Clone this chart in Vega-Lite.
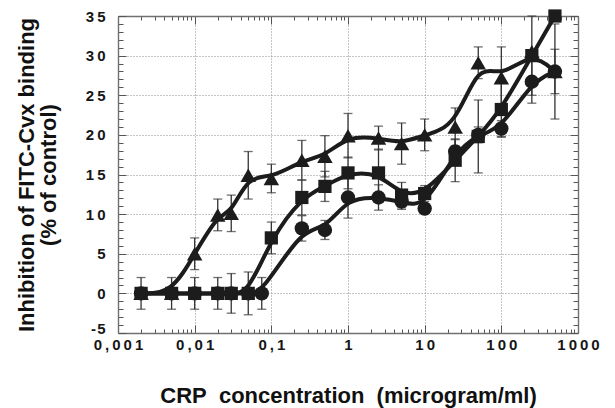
{
  "$schema": "https://vega.github.io/schema/vega-lite/v6.json",
  "width": 460,
  "height": 317,
  "autosize": {"type": "none"},
  "padding": {"left": 118, "top": 16, "right": 37, "bottom": 75},
  "background": "white",
  "config": {
    "view": {"stroke": null},
    "axis": {
      "labelFont": "Liberation Sans",
      "titleFont": "Liberation Sans",
      "labelFontWeight": "bold",
      "titleFontWeight": "bold",
      "labelColor": "#161616",
      "titleColor": "#111111",
      "domainColor": "#707070",
      "domainWidth": 1.4,
      "tickColor": "#555555",
      "tickWidth": 1,
      "labelOverlap": false,
      "labelFlush": false
    }
  },
  "data": {
    "values": [
      {"s": "tri", "x": 0.002, "y": 0, "err": 0},
      {"s": "tri", "x": 0.005, "y": 0, "err": 0},
      {"s": "tri", "x": 0.01, "y": 5.0, "err": 2},
      {"s": "tri", "x": 0.02, "y": 9.9, "err": 2},
      {"s": "tri", "x": 0.03, "y": 10.1, "err": 2.3},
      {"s": "tri", "x": 0.05, "y": 14.9, "err": 3},
      {"s": "tri", "x": 0.1, "y": 14.5, "err": 1.8},
      {"s": "tri", "x": 0.25, "y": 16.8, "err": 2.5},
      {"s": "tri", "x": 0.5, "y": 17.3, "err": 2.6},
      {"s": "tri", "x": 1, "y": 19.9, "err": 2.8},
      {"s": "tri", "x": 2.5, "y": 19.6, "err": 1.5},
      {"s": "tri", "x": 5, "y": 18.9, "err": 2.6},
      {"s": "tri", "x": 10, "y": 20, "err": 2},
      {"s": "tri", "x": 25, "y": 21, "err": 2.4},
      {"s": "tri", "x": 50, "y": 29.1, "err": 2},
      {"s": "tri", "x": 100, "y": 27.2, "err": 3.9},
      {"s": "tri", "x": 250, "y": 30.5, "err": 0},
      {"s": "tri", "x": 500, "y": 28, "err": 6},
      {"s": "circ", "x": 0.002, "y": 0, "err": 0},
      {"s": "circ", "x": 0.005, "y": 0, "err": 0},
      {"s": "circ", "x": 0.01, "y": 0, "err": 0},
      {"s": "circ", "x": 0.02, "y": 0, "err": 0},
      {"s": "circ", "x": 0.03, "y": 0, "err": 0},
      {"s": "circ", "x": 0.05, "y": 0, "err": 0},
      {"s": "circ", "x": 0.075, "y": 0, "err": 2},
      {"s": "circ", "x": 0.25, "y": 8.2, "err": 1.6},
      {"s": "circ", "x": 0.5, "y": 8.0, "err": 1.2},
      {"s": "circ", "x": 1, "y": 12.1, "err": 2.6},
      {"s": "circ", "x": 2.5, "y": 12.1, "err": 1.6},
      {"s": "circ", "x": 5, "y": 11.6, "err": 1},
      {"s": "circ", "x": 10, "y": 10.7, "err": 0},
      {"s": "circ", "x": 25, "y": 17.9, "err": 1.5},
      {"s": "circ", "x": 50, "y": 20, "err": 1},
      {"s": "circ", "x": 100, "y": 20.8, "err": 1},
      {"s": "circ", "x": 250, "y": 26.7, "err": 2.7},
      {"s": "circ", "x": 500, "y": 28, "err": 2.8},
      {"s": "sq", "x": 0.002, "y": 0, "err": 2},
      {"s": "sq", "x": 0.005, "y": 0, "err": 2},
      {"s": "sq", "x": 0.01, "y": 0, "err": 2},
      {"s": "sq", "x": 0.02, "y": 0, "err": 2},
      {"s": "sq", "x": 0.03, "y": 0, "err": 2.5},
      {"s": "sq", "x": 0.05, "y": 0, "err": 2.7},
      {"s": "sq", "x": 0.1, "y": 7.0, "err": 2},
      {"s": "sq", "x": 0.25, "y": 12.1, "err": 2.2},
      {"s": "sq", "x": 0.5, "y": 13.5, "err": 1.9},
      {"s": "sq", "x": 1, "y": 15.2, "err": 2},
      {"s": "sq", "x": 2.5, "y": 15.2, "err": 3},
      {"s": "sq", "x": 5, "y": 12.4, "err": 1.6},
      {"s": "sq", "x": 10, "y": 12.6, "err": 1},
      {"s": "sq", "x": 25, "y": 16.8, "err": 2.7},
      {"s": "sq", "x": 50, "y": 19.8, "err": 4.6},
      {"s": "sq", "x": 100, "y": 23.2, "err": 3.5},
      {"s": "sq", "x": 250, "y": 30, "err": 5},
      {"s": "sq", "x": 500, "y": 35, "err": 0}
    ]
  },
  "layer": [
    {
      "transform": [{"filter": "datum.err > 0"}],
      "mark": {"type": "errorbar", "ticks": {"size": 9}, "color": "#333333", "thickness": 1.3},
      "encoding": {
        "x": {"field": "x", "type": "quantitative", "scale": {"type": "log", "domain": [0.001, 1000], "nice": false}, "axis": null},
        "y": {"field": "y", "type": "quantitative", "scale": {"domain": [-5, 35], "nice": false, "zero": false}, "axis": null},
        "yError": {"field": "err"},
        "detail": {"field": "s"}
      }
    },
    {
      "mark": {"type": "line", "interpolate": "basis", "strokeWidth": 4, "color": "#1c1c1c"},
      "encoding": {
        "x": {
          "field": "x", "type": "quantitative",
          "axis": {
            "orient": "bottom",
            "values": [0.001,0.002,0.003,0.004,0.005,0.006,0.007,0.008,0.009,0.01,0.02,0.03,0.04,0.05,0.06,0.07,0.08,0.09,0.1,0.2,0.3,0.4,0.5,0.6,0.7,0.8,0.9,1,2,3,4,5,6,7,8,9,10,20,30,40,50,60,70,80,90,100,200,300,400,500,600,700,800,900,1000],
            "labelExpr": "abs(log(datum.value)/LN10 - round(log(datum.value)/LN10)) < 0.001 ? ['0\u2009,\u20090\u20090\u20091','0\u2009,\u20090\u20091','0\u2009,\u20091','1','1\u20090','1\u20090\u20090','1\u20090\u20090\u20090'][round(log(datum.value)/LN10)+3] : ''",
            "labelFontSize": 15,
            "labelPadding": 12.5,
            "tickSize": {"condition": {"test": "abs(log(datum.value)/LN10 - round(log(datum.value)/LN10)) < 0.001", "value": -8}, "value": -4},
            "grid": true,
            "gridDash": [1, 2],
            "gridColor": "#8a8a8a",
            "gridWidth": 1,
            "gridOpacity": {"condition": {"test": "abs(log(datum.value)/LN10 - round(log(datum.value)/LN10)) < 0.001", "value": 1}, "value": 0},
            "title": "CRP\u00a0 concentration\u00a0 (microgram/ml)",
            "titleFontSize": 22,
            "titleX": 230,
            "titleY": 69,
            "titleAlign": "center",
            "titleBaseline": "alphabetic"
          }
        },
        "y": {
          "field": "y", "type": "quantitative",
          "axis": {
            "orient": "left",
            "values": [-5,-4,-3,-2,-1,0,1,2,3,4,5,6,7,8,9,10,11,12,13,14,15,16,17,18,19,20,21,22,23,24,25,26,27,28,29,30,31,32,33,34,35],
            "labelExpr": "datum.value % 5 != 0 ? '' : datum.value < 0 ? '-\u200a5' : datum.value < 10 ? format(datum.value, 'd') : format(floor(datum.value/10), 'd') + '\u2009' + format(datum.value % 10, 'd')",
            "labelFontSize": 15,
            "labelPadding": 21,
            "labelBaseline": "middle",
            "labelOffset": {"condition": {"test": "datum.value < 0", "value": -5}, "value": 0},
            "tickSize": {"condition": {"test": "datum.value % 5 == 0", "value": -8}, "value": -5},
            "grid": true,
            "gridDash": [1, 2],
            "gridColor": "#8a8a8a",
            "gridWidth": 1,
            "gridOpacity": {"condition": {"test": "datum.value % 5 == 0", "value": 1}, "value": 0},
            "title": ["Inhibition of FITC-Cvx binding", "(% of control)"],
            "titleFontSize": 22,
            "titleLineHeight": 22,
            "titleX": -102,
            "titleY": 158.5,
            "titleAlign": "center",
            "titleBaseline": "top",
            "titleAngle": -90
          }
        },
        "detail": {"field": "s"}
      }
    },
    {
      "mark": {"type": "point", "filled": true, "color": "#1c1c1c", "opacity": 1},
      "encoding": {
        "x": {
          "field": "x", "type": "quantitative",
          "axis": {
            "orient": "top",
            "values": [0.001,0.002,0.003,0.004,0.005,0.006,0.007,0.008,0.009,0.01,0.02,0.03,0.04,0.05,0.06,0.07,0.08,0.09,0.1,0.2,0.3,0.4,0.5,0.6,0.7,0.8,0.9,1,2,3,4,5,6,7,8,9,10,20,30,40,50,60,70,80,90,100,200,300,400,500,600,700,800,900,1000],
            "labels": false,
            "grid": false,
            "title": null,
            "tickSize": {"condition": {"test": "abs(log(datum.value)/LN10 - round(log(datum.value)/LN10)) < 0.001", "value": -8}, "value": -4}
          }
        },
        "y": {
          "field": "y", "type": "quantitative",
          "axis": {
            "orient": "right",
            "values": [-5,-4,-3,-2,-1,0,1,2,3,4,5,6,7,8,9,10,11,12,13,14,15,16,17,18,19,20,21,22,23,24,25,26,27,28,29,30,31,32,33,34,35],
            "labels": false,
            "grid": false,
            "title": null,
            "tickSize": {"condition": {"test": "datum.value % 5 == 0", "value": -8}, "value": -5}
          }
        },
        "shape": {"field": "s", "type": "nominal", "scale": {"domain": ["tri", "circ", "sq"], "range": ["triangle-up", "circle", "square"]}, "legend": null},
        "size": {"field": "s", "type": "ordinal", "scale": {"domain": ["tri", "circ", "sq"], "range": [240, 175, 200]}, "legend": null}
      }
    }
  ],
  "resolve": {"axis": {"x": "independent", "y": "independent"}}
}
